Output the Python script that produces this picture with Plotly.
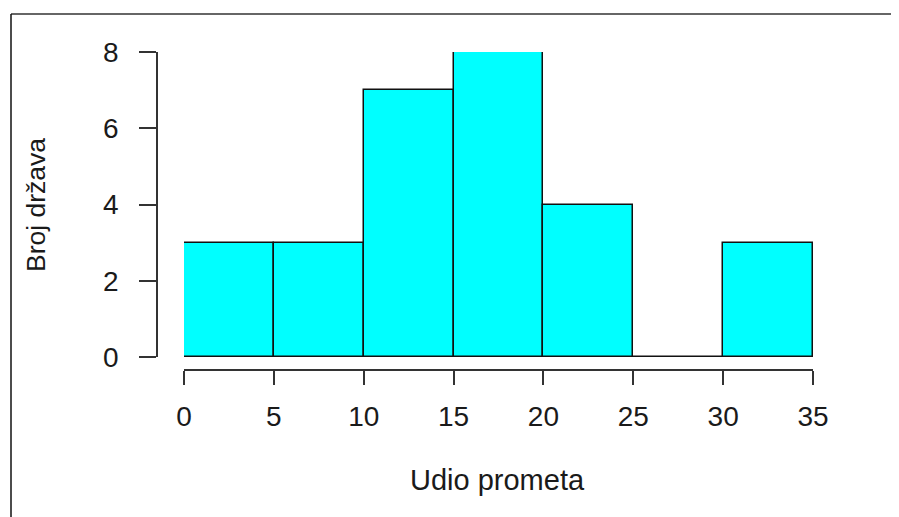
import plotly.graph_objects as go

# Histogram data
bin_edges = [0, 5, 10, 15, 20, 25, 30, 35]
counts = [3, 3, 7, 8, 4, 0, 3]
x_ticks = [0, 5, 10, 15, 20, 25, 30, 35]
y_ticks = [0, 2, 4, 6, 8]
x_title = "Udio prometa"
y_title = "Broj država"

# page body adds an 8px margin; work in figure pixel coords
OFF = 8
W, H = 899 - OFF, 517 - OFF


def px(x):
    return (x - OFF) / W


def py(y):
    return 1 - (y - OFF) / H


centers = [(a + b) / 2 for a, b in zip(bin_edges[:-1], bin_edges[1:])]
widths = [b - a for a, b in zip(bin_edges[:-1], bin_edges[1:])]

fig = go.Figure()
fig.add_trace(go.Bar(
    x=centers, y=counts, width=widths,
    marker=dict(color="#00FFFF", line=dict(color="#111111", width=1.5)),
    cliponaxis=False, hoverinfo="skip", showlegend=False,
))

font_family = "Liberation Sans, Arial, sans-serif"
txt_color = "#1a1a1a"
tick_font = dict(family=font_family, size=28, color=txt_color)

fig.update_layout(
    width=W, height=H,
    margin=dict(l=0, r=0, t=0, b=0),
    paper_bgcolor="white", plot_bgcolor="white",
    bargap=0,
    xaxis=dict(
        domain=[px(184), px(813)], range=[0, 35],
        anchor="free", position=py(370),
        tickvals=x_ticks, ticktext=[str(v) for v in x_ticks],
        ticks="outside", ticklen=14, tickwidth=1.5, tickcolor="#333333",
        showline=True, linecolor="#333333", linewidth=1.5,
        showgrid=False, zeroline=False, tickfont=tick_font,
        ticklabelstandoff=8, automargin=False,
    ),
    yaxis=dict(
        domain=[py(357), py(52)], range=[0, 8],
        anchor="free", position=px(157),
        tickvals=y_ticks, ticktext=[str(v) for v in y_ticks],
        ticks="outside", ticklen=17, tickwidth=1.5, tickcolor="#333333",
        showline=True, linecolor="#333333", linewidth=1.5,
        showgrid=False, zeroline=False, tickfont=tick_font,
        ticklabelstandoff=15, automargin=False,
    ),
    annotations=[
        dict(text=x_title, xref="paper", yref="paper",
             x=px(497), y=py(480), showarrow=False,
             xanchor="center", yanchor="middle",
             font=dict(family=font_family, size=29, color=txt_color)),
        dict(text=y_title, xref="paper", yref="paper",
             x=px(36), y=py(205), showarrow=False, textangle=-90,
             xanchor="center", yanchor="middle",
             font=dict(family=font_family, size=26.5, color=txt_color)),
    ],
    shapes=[
        dict(type="line", xref="paper", yref="paper",
             x0=px(11), x1=1, y0=py(14), y1=py(14),
             line=dict(color="#666666", width=2)),
        dict(type="line", xref="paper", yref="paper",
             x0=px(11), x1=px(11), y0=py(14), y1=0,
             line=dict(color="#111111", width=1.5)),
    ],
)

fig.write_html("out.html")
